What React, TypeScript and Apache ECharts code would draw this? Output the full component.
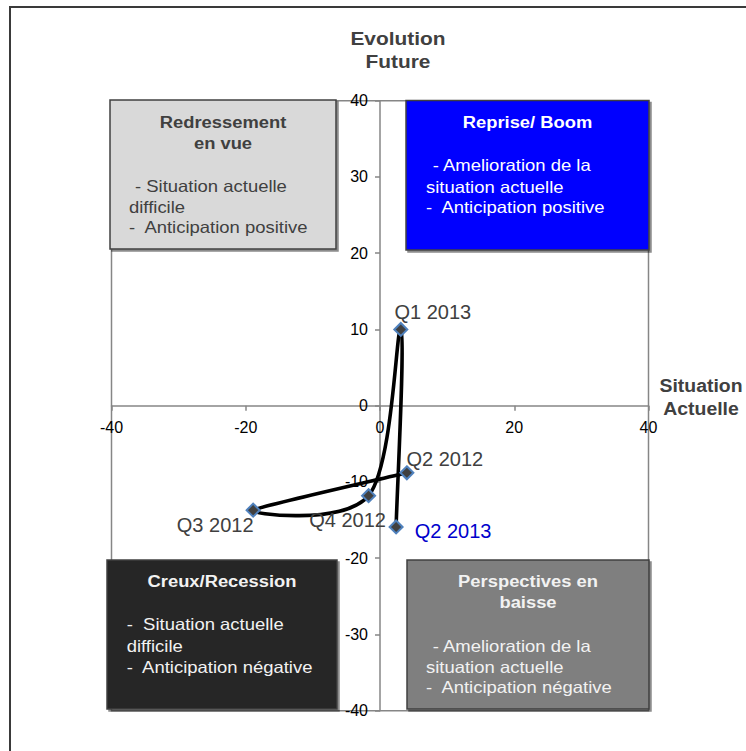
import React, { useEffect, useRef } from "react";
import * as echarts from "echarts";

// Quarterly readings: current situation (x) vs expected evolution (y)
const quarters = ["Q2 2012", "Q3 2012", "Q4 2012", "Q1 2013", "Q2 2013"];
const situationActuelle = [4.0, -18.9, -1.7, 3.1, 2.4];
const evolutionFuture = [-8.8, -13.7, -11.8, 10.0, -15.9];

// Axis scale
const axisMin = -40;
const axisMax = 40;
const xInterval = 20;
const yInterval = 10;

// Quadrant captions
const quadrantTitles = {
  redressement: ["Redressement", "en vue"],
  reprise: ["Reprise/ Boom"],
  creux: ["Creux/Recession"],
  perspectives: ["Perspectives en", "baisse"],
};
const quadrantBodies = {
  redressement: ["- Situation actuelle", "difficile", "-  Anticipation positive"],
  reprise: ["- Amelioration de la", "situation actuelle", "-  Anticipation positive"],
  creux: ["-  Situation actuelle", "difficile", "-  Anticipation négative"],
  perspectives: ["- Amelioration de la", "situation actuelle", "-  Anticipation négative"],
};

// Label placement per quarter (offset from the marker, colour)
const labelPlacement: Record<string, { offset: [number, number]; color: string }> = {
  "Q2 2012": { offset: [38, -14], color: "#404040" },
  "Q3 2012": { offset: [-38, 15], color: "#404040" },
  "Q4 2012": { offset: [-21, 24], color: "#404040" },
  "Q1 2013": { offset: [32, -17], color: "#404040" },
  "Q2 2013": { offset: [57, 4], color: "#0000CC" },
};

const FONT = '"Liberation Sans", Arial, Helvetica, sans-serif';
const TENSION = 1 / 6;

function txt(
  text: string,
  x: number,
  baseline: number,
  o: { size: number; bold?: boolean; color: string; align?: string; scaleX?: number }
) {
  const align = o.align || "left";
  return {
    type: "text",
    x,
    y: baseline - 0.35 * o.size,
    scaleX: o.scaleX || 1,
    z: 30,
    silent: true,
    style: {
      text,
      x: 0,
      y: 0,
      fill: o.color,
      font: `${o.bold ? "bold " : ""}${o.size}px ${FONT}`,
      textAlign: align,
      align,
      textVerticalAlign: "middle",
      verticalAlign: "middle",
    },
  };
}

function box(x: number, y: number, w: number, h: number, fill: string) {
  return {
    type: "rect",
    z: 20,
    silent: true,
    shape: { x, y, width: w, height: h },
    style: {
      fill,
      stroke: "#404040",
      lineWidth: 1.5,
      shadowColor: "rgba(0,0,0,0.45)",
      shadowOffsetX: 2,
      shadowOffsetY: 2,
      shadowBlur: 0,
    },
  };
}

function quadrant(
  key: keyof typeof quadrantTitles,
  bx: number,
  by: number,
  bw: number,
  bh: number,
  fill: string,
  color: string,
  titleBase: number,
  bodyX: number,
  firstX: number,
  bodyBases: number[]
) {
  const cx = bx + bw / 2;
  const els: any[] = [box(bx, by, bw, bh, fill)];
  quadrantTitles[key].forEach((t, i) =>
    els.push(txt(t, cx, titleBase + i * 20.5, { size: 17, bold: true, color, align: "center", scaleX: 1.08 }))
  );
  quadrantBodies[key].forEach((t, i) =>
    els.push(txt(t, i === 0 ? firstX : bodyX, bodyBases[i], { size: 16.5, color, scaleX: 1.12 }))
  );
  return els;
}

// Smoothed path: cubic Bezier per segment, Catmull-Rom style tangents
function renderSegment(params: any, api: any) {
  const n = quarters.length;
  const i = params.dataIndex;
  if (i >= n - 1) return null;
  const P = (k: number) => api.coord([situationActuelle[k], evolutionFuture[k]]);
  const p0 = P(Math.max(i - 1, 0));
  const p1 = P(i);
  const p2 = P(i + 1);
  const p3 = P(Math.min(i + 2, n - 1));
  return {
    type: "bezierCurve",
    shape: {
      x1: p1[0],
      y1: p1[1],
      x2: p2[0],
      y2: p2[1],
      cpx1: p1[0] + (p2[0] - p0[0]) * TENSION,
      cpy1: p1[1] + (p2[1] - p0[1]) * TENSION,
      cpx2: p2[0] - (p3[0] - p1[0]) * TENSION,
      cpy2: p2[1] - (p3[1] - p1[1]) * TENSION,
    },
    style: { stroke: "#000000", lineWidth: 3.6, fill: "none", lineCap: "round" },
  };
}

export default function App() {
  const ref = useRef<HTMLDivElement>(null);

  useEffect(() => {
    if (!ref.current) return;
    const chart = echarts.init(ref.current, undefined, { renderer: "svg" });

    const axisLineStyle = { color: "#868686", width: 1.5 };

    const graphic: any[] = [
      {
        type: "rect",
        z: 40,
        silent: true,
        shape: { x: 10, y: 7, width: 800, height: 800 },
        style: { fill: "none", stroke: "#3a3a3a", lineWidth: 2 },
      },
      txt("Evolution", 398, 45, { size: 18.5, bold: true, color: "#404040", align: "center", scaleX: 1.13 }),
      txt("Future", 398, 68, { size: 18.5, bold: true, color: "#404040", align: "center", scaleX: 1.13 }),
      txt("Situation", 701, 391.7, { size: 18.5, bold: true, color: "#404040", align: "center", scaleX: 1.05 }),
      txt("Actuelle", 701, 415, { size: 18.5, bold: true, color: "#404040", align: "center", scaleX: 1.05 }),
      ...quadrant("redressement", 110, 100, 226, 149, "#D9D9D9", "#404040", 128.3, 129, 135, [191.7, 213.3, 233.3]),
      ...quadrant("reprise", 406, 100.5, 243, 149.5, "#0000FF", "#FFFFFF", 128.3, 426, 432.7, [170.7, 192.7, 213.3]),
      ...quadrant("creux", 107, 560, 230, 149, "#262626", "#F2F2F2", 587.3, 126.7, 126.7, [630, 651.7, 672.7]),
      ...quadrant("perspectives", 407, 560, 242, 149, "#7F7F7F", "#F2F2F2", 587.3, 426, 432.7, [651.7, 672.7, 693.3]),
    ];

    const points = quarters.map((q, i) => [situationActuelle[i], evolutionFuture[i]]);

    chart.setOption({
      animation: false,
      backgroundColor: "#FFFFFF",
      textStyle: { fontFamily: FONT },
      grid: {
        left: 111.5,
        right: 97.5,
        top: 100.7,
        bottom: 40.3,
        show: true,
        borderColor: "#868686",
        borderWidth: 1.5,
        backgroundColor: "transparent",
      },
      xAxis: {
        type: "value",
        min: axisMin,
        max: axisMax,
        interval: xInterval,
        position: "bottom",
        axisLine: { onZero: false, lineStyle: axisLineStyle },
        axisTick: { show: true, length: 5, inside: false, lineStyle: axisLineStyle },
        axisLabel: { fontSize: 16, color: "#000000", margin: 14, fontFamily: FONT },
        splitLine: { show: false },
      },
      yAxis: {
        type: "value",
        min: axisMin,
        max: axisMax,
        interval: yInterval,
        position: "left",
        axisLine: { onZero: false, lineStyle: axisLineStyle },
        axisTick: { show: true, length: 5, inside: false, lineStyle: axisLineStyle },
        axisLabel: { fontSize: 16, color: "#000000", margin: 12, fontFamily: FONT },
        splitLine: { show: false },
      },
      series: [
        {
          type: "custom",
          z: 4,
          silent: true,
          clip: false,
          encode: { x: 0, y: 1 },
          data: points,
          renderItem: renderSegment,
        },
        {
          type: "scatter",
          z: 6,
          symbol: "diamond",
          symbolSize: 13,
          itemStyle: { color: "#404040", borderColor: "#4F81BD", borderWidth: 2, opacity: 1 },
          data: quarters.map((q, i) => ({
            name: q,
            value: points[i],
            label: {
              show: true,
              position: "inside",
              offset: labelPlacement[q].offset,
              color: labelPlacement[q].color,
              fontSize: 20,
              fontFamily: FONT,
              formatter: "{b}",
            },
          })),
        },
      ],
      graphic,
    });

    // Put both axes through the origin of the plot
    const origin = chart.convertToPixel({ gridIndex: 0 }, [0, 0]) as number[];
    const bottomY = (chart.convertToPixel({ gridIndex: 0 }, [0, axisMin]) as number[])[1];
    const leftX = (chart.convertToPixel({ gridIndex: 0 }, [axisMin, 0]) as number[])[0];
    chart.setOption({
      xAxis: { offset: -(bottomY - origin[1]) },
      yAxis: { offset: -(origin[0] - leftX) },
    });

    return () => chart.dispose();
  }, []);

  return (
    <div
      ref={ref}
      style={{ position: "fixed", left: 0, top: 0, width: 746, height: 751, background: "#fff" }}
    />
  );
}
